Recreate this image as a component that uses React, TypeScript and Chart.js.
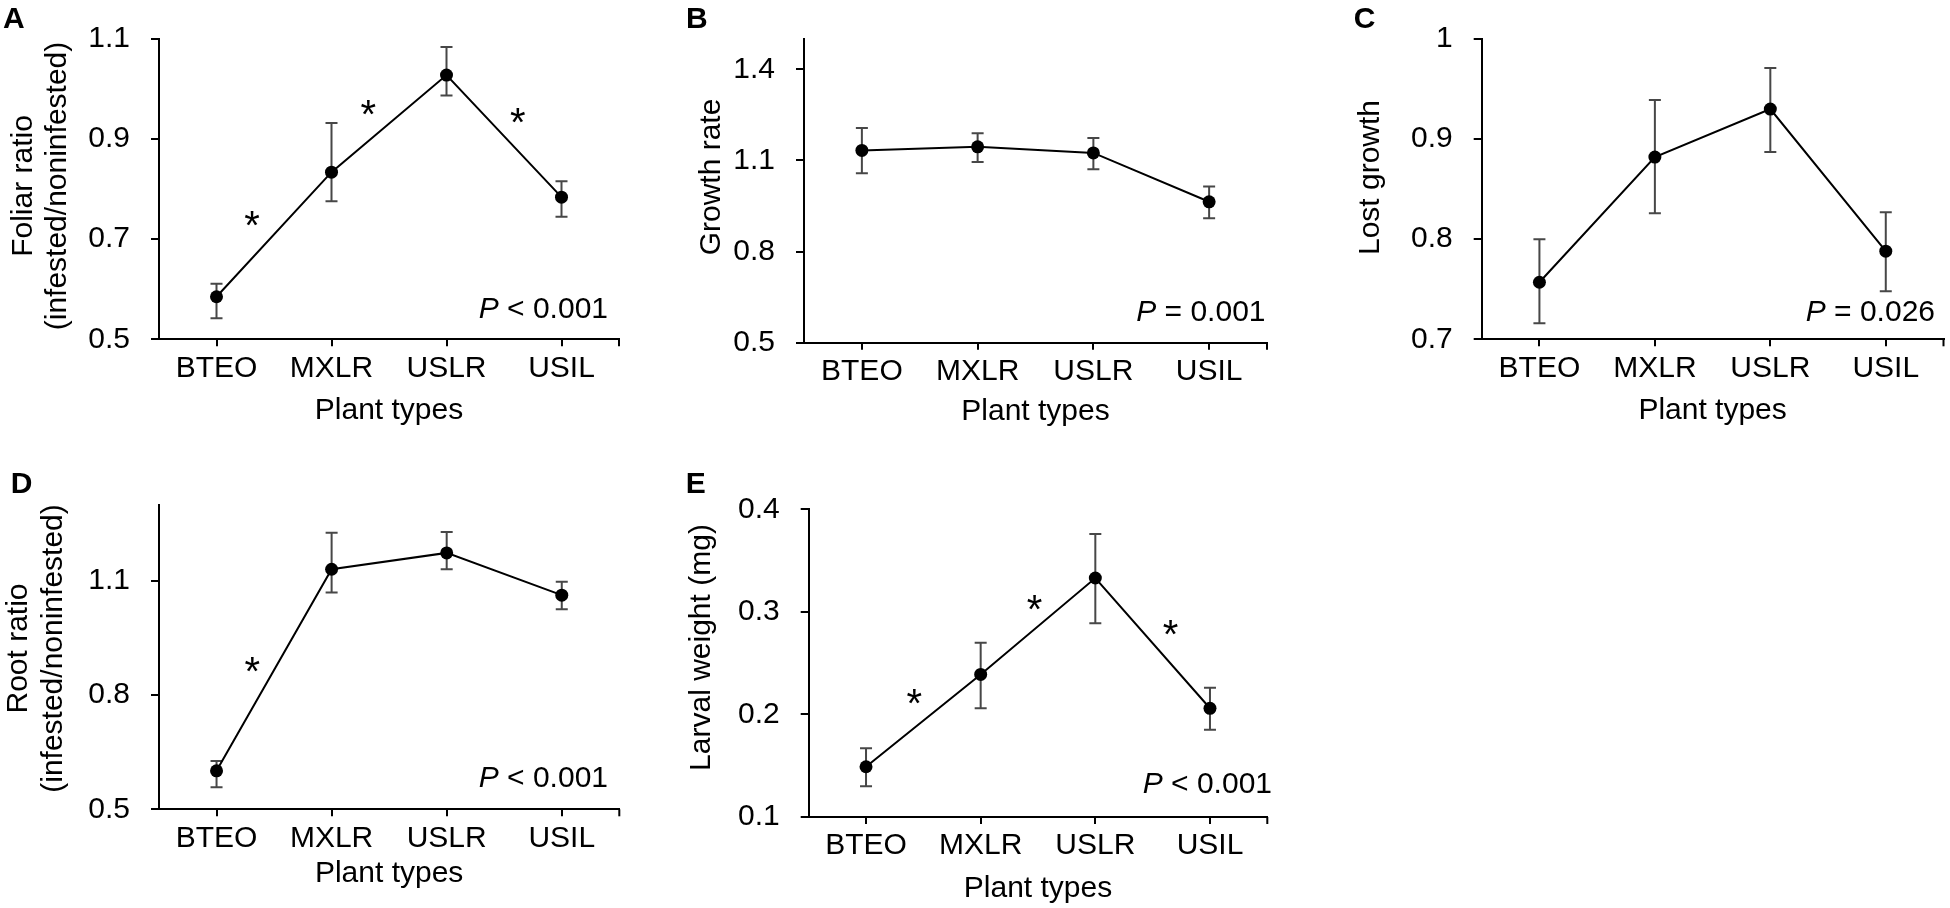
import React, { useEffect, useRef } from 'react';
import { Chart, registerables } from 'chart.js';

Chart.register(...registerables);

const FONT = "'Liberation Sans', Arial, sans-serif";

// ---------- data ----------
const plantTypes = ['BTEO', 'MXLR', 'USLR', 'USIL'];

// A: Foliar ratio
const foliarRatio = [0.585, 0.834, 1.028, 0.784];
const foliarUpper = [0.611, 0.932, 1.084, 0.816];
const foliarLower = [0.542, 0.776, 0.987, 0.745];
const foliarTicks = [0.5, 0.7, 0.9, 1.1];
const foliarStars = [[0.31, 0.747], [1.32, 0.969], [2.62, 0.953]];

// B: Growth rate
const growthRate = [1.133, 1.145, 1.125, 0.964];
const growthUpper = [1.207, 1.19, 1.174, 1.014];
const growthLower = [1.058, 1.095, 1.071, 0.91];
const growthTicks = [0.5, 0.8, 1.1, 1.4];

// C: Lost growth
const lostGrowth = [0.757, 0.882, 0.93, 0.788];
const lostUpper = [0.8, 0.939, 0.971, 0.827];
const lostLower = [0.716, 0.826, 0.887, 0.748];
const lostTicks = [0.7, 0.8, 0.9, 1];

// D: Root ratio
const rootRatio = [0.601, 1.13, 1.173, 1.062];
const rootUpper = [0.627, 1.226, 1.228, 1.097];
const rootLower = [0.558, 1.069, 1.13, 1.025];
const rootTicks = [0.5, 0.8, 1.1];
const rootStars = [[0.31, 0.887]];

// E: Larval weight
const larvalWeight = [0.149, 0.239, 0.333, 0.206];
const larvalUpper = [0.167, 0.27, 0.376, 0.226];
const larvalLower = [0.13, 0.206, 0.289, 0.185];
const larvalTicks = [0.1, 0.2, 0.3, 0.4];
const larvalStars = [[0.42, 0.22], [1.47, 0.312], [2.655, 0.287]];

const pValues = ['< 0.001', '= 0.001', '= 0.026', '< 0.001', '< 0.001'];

// ---------- panel layout ----------
type Box = { x: number; y: number; w: number; h: number };
type Area = { left: number; right: number; top: number; bottom: number };
type Panel = {
  letter: string;
  letterPos: [number, number];
  box: Box;
  area: Area;
  yMin: number;
  yMax: number;
  ticks: number[];
  values: number[];
  upper: number[];
  lower: number[];
  stars: number[][];
  yTitle: string[];
  yTitleX: number[];
  yTitleY: number;
  pValue: string;
  pRight: number;
  pBaseline: number;
  xTitleBaseline: number;
};

const panels: Panel[] = [
  {
    letter: 'A', letterPos: [3, 27.5],
    box: { x: 0, y: 0, w: 650, h: 450 },
    area: { left: 159, right: 619, top: 33.3, bottom: 339.3 },
    yMin: 0.5, yMax: 1.1, ticks: foliarTicks,
    values: foliarRatio, upper: foliarUpper, lower: foliarLower, stars: foliarStars,
    yTitle: ['Foliar ratio', '(infested/noninfested)'], yTitleX: [32, 65.7], yTitleY: 186,
    pValue: pValues[0], pRight: 608, pBaseline: 318.3, xTitleBaseline: 420.7,
  },
  {
    letter: 'B', letterPos: [686, 28],
    box: { x: 650, y: 0, w: 650, h: 450 },
    area: { left: 804, right: 1267, top: 37.1, bottom: 342.7 },
    yMin: 0.5, yMax: 1.5, ticks: growthTicks,
    values: growthRate, upper: growthUpper, lower: growthLower, stars: [],
    yTitle: ['Growth rate'], yTitleX: [720], yTitleY: 177,
    pValue: pValues[1], pRight: 1265.5, pBaseline: 320.7, xTitleBaseline: 422.5,
  },
  {
    letter: 'C', letterPos: [1353.7, 28],
    box: { x: 1300, y: 0, w: 650, h: 450 },
    area: { left: 1481.7, right: 1946.7, top: 33.3, bottom: 339.3 },
    yMin: 0.7, yMax: 1.0, ticks: lostTicks,
    values: lostGrowth, upper: lostUpper, lower: lostLower, stars: [],
    yTitle: ['Lost growth'], yTitleX: [1378.7], yTitleY: 177.5,
    pValue: pValues[2], pRight: 1935, pBaseline: 320.7, xTitleBaseline: 421,
  },
  {
    letter: 'D', letterPos: [10.7, 492.7],
    box: { x: 0, y: 450, w: 650, h: 458 },
    area: { left: 159, right: 619.3, top: 504.5, bottom: 809.3 },
    yMin: 0.5, yMax: 1.3, ticks: rootTicks,
    values: rootRatio, upper: rootUpper, lower: rootLower, stars: rootStars,
    yTitle: ['Root ratio', '(infested/noninfested)'], yTitleX: [27, 61.7], yTitleY: 648.5,
    pValue: pValues[3], pRight: 608, pBaseline: 787.3, xTitleBaseline: 884,
  },
  {
    letter: 'E', letterPos: [685.7, 493],
    box: { x: 650, y: 450, w: 650, h: 458 },
    area: { left: 808.7, right: 1267.3, top: 509.3, bottom: 817 },
    yMin: 0.1, yMax: 0.4, ticks: larvalTicks,
    values: larvalWeight, upper: larvalUpper, lower: larvalLower, stars: larvalStars,
    yTitle: ['Larval weight (mg)'], yTitleX: [710.4], yTitleY: 647.5,
    pValue: pValues[4], pRight: 1272, pBaseline: 793.3, xTitleBaseline: 899.3,
  },
];

const TEXT_SIZE = 30;
const LINE_H = TEXT_SIZE * 1.2;
const MID_TO_BASE = 0.3465 * TEXT_SIZE;

function makeDecor(p: Panel) {
  return {
    id: 'panelDecor' + p.letter,
    beforeDatasetsDraw(chart: any) {
      const ctx = chart.ctx;
      const xs = chart.scales.x;
      const ys = chart.scales.y;
      ctx.save();
      ctx.strokeStyle = '#474747';
      ctx.lineWidth = 2;
      p.values.forEach((_, i) => {
        const px = xs.getPixelForValue(i);
        const yt = ys.getPixelForValue(p.upper[i]);
        const yb = ys.getPixelForValue(p.lower[i]);
        ctx.beginPath();
        ctx.moveTo(px, yt);
        ctx.lineTo(px, yb);
        ctx.moveTo(px - 6, yt);
        ctx.lineTo(px + 6, yt);
        ctx.moveTo(px - 6, yb);
        ctx.lineTo(px + 6, yb);
        ctx.stroke();
      });
      ctx.restore();
    },
    afterDraw(chart: any) {
      const ctx = chart.ctx;
      const xs = chart.scales.x;
      const ys = chart.scales.y;
      const ox = p.box.x;
      const oy = p.box.y;
      const ca = chart.chartArea;
      ctx.save();
      ctx.fillStyle = '#000';
      ctx.strokeStyle = '#000';
      // end tick of x axis
      ctx.lineWidth = 2;
      ctx.beginPath();
      ctx.moveTo(ca.right, ca.bottom);
      ctx.lineTo(ca.right, ca.bottom + 7);
      ctx.stroke();
      // panel letter
      ctx.font = `bold 30px ${FONT}`;
      ctx.textAlign = 'left';
      ctx.textBaseline = 'alphabetic';
      ctx.fillText(p.letter, p.letterPos[0] - ox, p.letterPos[1] - oy);
      // y titles
      ctx.font = `${TEXT_SIZE}px ${FONT}`;
      p.yTitle.forEach((line, i) => {
        ctx.save();
        ctx.translate(p.yTitleX[i] - ox, p.yTitleY - oy);
        ctx.rotate(-Math.PI / 2);
        ctx.textAlign = 'center';
        ctx.textBaseline = 'alphabetic';
        ctx.fillText(line, 0, 0);
        ctx.restore();
      });
      // P value text
      ctx.textAlign = 'left';
      ctx.textBaseline = 'alphabetic';
      ctx.font = `italic ${TEXT_SIZE}px ${FONT}`;
      const wP = ctx.measureText('P').width;
      ctx.font = `${TEXT_SIZE}px ${FONT}`;
      const rest = ' ' + p.pValue;
      const wR = ctx.measureText(rest).width;
      const startX = p.pRight - ox - wP - wR;
      ctx.font = `italic ${TEXT_SIZE}px ${FONT}`;
      ctx.fillText('P', startX, p.pBaseline - oy);
      ctx.font = `${TEXT_SIZE}px ${FONT}`;
      ctx.fillText(rest, startX + wP, p.pBaseline - oy);
      // significance stars
      const starSize = 40;
      ctx.font = `${starSize}px ${FONT}`;
      ctx.textAlign = 'center';
      p.stars.forEach(([sx, sy]) => {
        ctx.fillText('*', xs.getPixelForValue(sx), ys.getPixelForValue(sy) + 0.58 * starSize);
      });
      ctx.restore();
    },
  };
}

function PanelChart({ p }: { p: Panel }) {
  const ref = useRef<HTMLCanvasElement>(null);
  useEffect(() => {
    const left = p.area.left - p.box.x;
    const right = p.area.right - p.box.x;
    const top = p.area.top - p.box.y;
    const bottom = p.area.bottom - p.box.y;
    const xHeight = p.box.h - bottom;
    const titleMid = p.xTitleBaseline - p.box.y - MID_TO_BASE;
    const titlePadBottom = p.box.h - titleMid - LINE_H / 2;
    const chart = new Chart(ref.current as HTMLCanvasElement, {
      type: 'line',
      data: {
        labels: plantTypes,
        datasets: [
          {
            data: p.values,
            borderColor: '#000',
            borderWidth: 2,
            backgroundColor: '#000',
            pointBackgroundColor: '#000',
            pointBorderColor: '#000',
            pointBorderWidth: 0,
            pointRadius: 6.5,
            tension: 0,
            fill: false,
          },
        ],
      },
      options: {
        animation: false,
        responsive: false,
        events: [],
        layout: {
          padding: { left: 0, top, right: p.box.w - right, bottom: 0 },
        },
        plugins: {
          legend: { display: false },
          tooltip: { enabled: false },
        },
        scales: {
          x: {
            type: 'category',
            offset: true,
            grid: {
              display: true,
              drawOnChartArea: false,
              drawTicks: true,
              tickLength: 7,
              color: '#000',
              lineWidth: 2,
              offset: false,
            },
            border: { display: true, color: '#000', width: 2 },
            ticks: {
              color: '#000',
              font: { family: FONT, size: TEXT_SIZE },
              padding: 4,
              maxRotation: 0,
              minRotation: 0,
              autoSkip: false,
            },
            title: {
              display: true,
              text: 'Plant types',
              color: '#000',
              font: { family: FONT, size: TEXT_SIZE, lineHeight: 1.2 },
              padding: { top: 0, bottom: titlePadBottom },
            },
            afterFit: (s: any) => {
              s.height = xHeight;
            },
          },
          y: {
            type: 'linear',
            min: p.yMin,
            max: p.yMax,
            afterBuildTicks: (s: any) => {
              s.ticks = p.ticks.map((v) => ({ value: v }));
            },
            grid: {
              display: true,
              drawOnChartArea: false,
              drawTicks: true,
              tickLength: 8,
              color: '#000',
              lineWidth: 2,
            },
            border: { display: true, color: '#000', width: 2 },
            ticks: {
              color: '#000',
              font: { family: FONT, size: TEXT_SIZE },
              padding: 21,
              callback: (v: any) => String(+Number(v).toFixed(2)),
            },
            afterFit: (s: any) => {
              s.width = left;
            },
          },
        },
      },
      plugins: [makeDecor(p)],
    } as any);
    return () => chart.destroy();
  }, [p]);
  return (
    <canvas
      ref={ref}
      width={p.box.w}
      height={p.box.h}
      style={{
        position: 'absolute',
        left: p.box.x,
        top: p.box.y,
        width: p.box.w,
        height: p.box.h,
      }}
    />
  );
}

export default function App() {
  return (
    <div
      style={{
        position: 'absolute',
        left: 0,
        top: 0,
        width: 1950,
        height: 908,
        background: '#fff',
        overflow: 'hidden',
      }}
    >
      {panels.map((p) => (
        <PanelChart key={p.letter} p={p} />
      ))}
    </div>
  );
}
